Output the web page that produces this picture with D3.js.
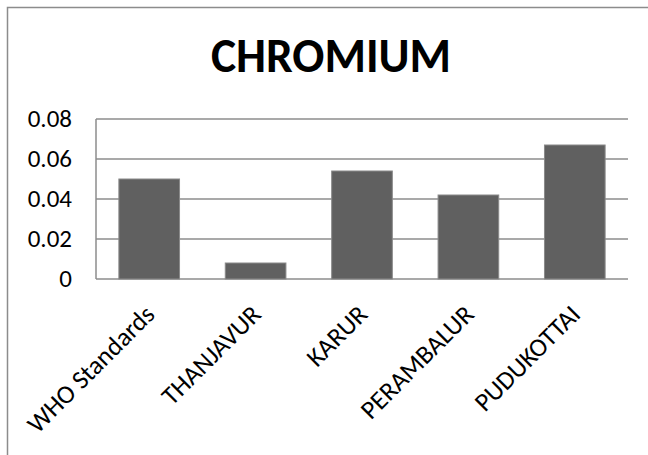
<!DOCTYPE html>
<html>
<head>
<meta charset="utf-8">
<script src="https://cdn.jsdelivr.net/npm/d3@7"></script>
<style>
  body { margin: 0; background: #fff; }
  svg { display: block; }
</style>
</head>
<body>
<div id="chart"></div>
<script>
var categories = ["WHO Standards", "THANJAVUR", "KARUR", "PERAMBALUR", "PUDUKOTTAI"];
var values = [0.05, 0.008, 0.054, 0.042, 0.067];
var yTicks = [0, 0.02, 0.04, 0.06, 0.08];
var title = "CHROMIUM";

var width = 648, height = 455;
var font = "Carlito, Calibri, 'Open Sans', sans-serif";

var svg = d3.select("#chart").append("svg")
    .attr("width", width)
    .attr("height", height);

// outer chart border (only top and left visible, image is cropped)
svg.append("rect")
    .attr("x", 7.5).attr("y", 7.5)
    .attr("width", width).attr("height", height)
    .attr("fill", "none")
    .attr("stroke", "#8c8c8c")
    .attr("stroke-width", 1.5);

var plot = { left: 96, right: 628, top: 119, bottom: 279 };

var x = d3.scaleBand()
    .domain(categories)
    .range([plot.left, plot.right])
    .paddingInner(0.43)
    .paddingOuter(0.215);

var y = d3.scaleLinear()
    .domain([0, 0.08])
    .range([plot.bottom, plot.top]);

// gridlines
svg.append("g")
    .selectAll("line")
    .data(yTicks)
    .join("line")
    .attr("x1", plot.left).attr("x2", plot.right)
    .attr("y1", d => y(d)).attr("y2", d => y(d))
    .attr("stroke", "#8c8c8c")
    .attr("stroke-width", 1.5);

// left axis line
svg.append("line")
    .attr("x1", plot.left).attr("x2", plot.left)
    .attr("y1", y(0.08)).attr("y2", y(0))
    .attr("stroke", "#8c8c8c")
    .attr("stroke-width", 1.5);

// y tick labels
svg.append("g")
    .selectAll("text")
    .data(yTicks)
    .join("text")
    .attr("x", 72)
    .attr("y", d => y(d))
    .attr("dy", "0.32em")
    .attr("text-anchor", "end")
    .attr("font-family", font)
    .attr("font-size", 25)
    .attr("fill", "#000")
    .text(d => d === 0 ? "0" : d.toFixed(2));

// bars
svg.append("g")
    .selectAll("rect")
    .data(values)
    .join("rect")
    .attr("x", (d, i) => x(categories[i]))
    .attr("y", d => y(d))
    .attr("width", x.bandwidth())
    .attr("height", d => y(0) - y(d))
    .attr("fill", "#606060")
    .attr("stroke", "#8a8a8a")
    .attr("stroke-width", 1);

// category labels, rotated, ending just right of each bar centre
svg.append("g")
    .selectAll("text")
    .data(categories)
    .join("text")
    .attr("transform", d => "translate(" + (x(d) + x.bandwidth() / 2 + 7) + "," + 316 + ") rotate(-45)")
    .attr("text-anchor", "end")
    .attr("font-family", font)
    .attr("font-size", 26)
    .attr("fill", "#000")
    .text(d => d);

// title
svg.append("text")
    .attr("x", 331)
    .attr("y", 72)
    .attr("text-anchor", "middle")
    .attr("font-family", font)
    .attr("font-weight", "bold")
    .attr("font-size", 47.5)
    .attr("fill", "#000")
    .text(title);
</script>
</body>
</html>
